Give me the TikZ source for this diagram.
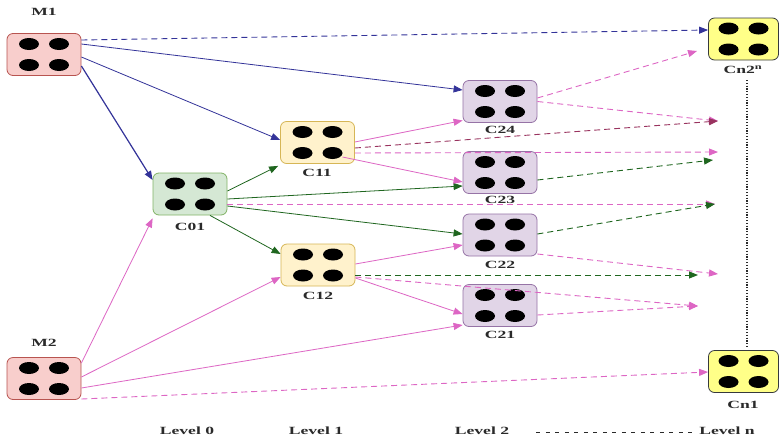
\documentclass[tikz,border=0pt]{standalone}
\usepackage{fontspec}
\setmainfont{Liberation Serif}[FakeStretch=1.6]
\usetikzlibrary{arrows.meta}
\definecolor{mfill}{HTML}{F8CECC}\definecolor{mdraw}{HTML}{B85450}
\definecolor{gfill}{HTML}{D5E8D4}\definecolor{gdraw}{HTML}{82B366}
\definecolor{yfill}{HTML}{FFF2CC}\definecolor{ydraw}{HTML}{D6B656}
\definecolor{pfill}{HTML}{E1D5E7}\definecolor{pdraw}{HTML}{9673A6}
\definecolor{nfill}{HTML}{FFFF88}\definecolor{ndraw}{HTML}{36393D}
\definecolor{cblue}{HTML}{333399}
\definecolor{cgreen}{HTML}{1F661F}
\definecolor{cpink}{HTML}{DD66C4}
\definecolor{cmaroon}{HTML}{99335F}
\definecolor{ctext}{HTML}{2A2A2A}
\newcommand\fourdots[1]{%
  \foreach \dx in {-15,15}{\foreach \dy in {-10.5,10.5}{%
    \fill ([shift={(\dx,\dy)}]#1.center) ellipse [x radius=10pt, y radius=6pt];}}}
\tikzset{
  box/.style={rounded corners=6pt, minimum width=74pt, minimum height=42pt, inner sep=0pt, line width=0.8pt},
  mbox/.style={box, fill=mfill, draw=mdraw},
  gbox/.style={box, fill=gfill, draw=gdraw},
  ybox/.style={box, fill=yfill, draw=ydraw},
  pbox/.style={box, fill=pfill, draw=pdraw},
  nbox/.style={box, minimum width=70pt, fill=nfill, draw=ndraw},
  lbl/.style={font=\bfseries\fontsize{11}{12}\selectfont, text=ctext, inner sep=0pt},
  arr/.style={-{Triangle[length=9pt,width=7pt]}, line width=0.8pt},
  dsh/.style={arr, line width=0.9pt, dash pattern=on 6pt off 4pt},
}
\begin{document}
\begin{tikzpicture}[x=1pt,y=-1pt]
\useasboundingbox[fill=white] (0,0) rectangle (779,440);
% boxes
\node[mbox] (M1) at (44,54.5) {};
\node[mbox] (M2) at (44,378.5) {};
\node[gbox] (C01) at (190,194) {};
\node[ybox] (C11) at (317.5,142.5) {};
\node[ybox] (C12) at (318,265) {};
\node[pbox] (C24) at (500,101.5) {};
\node[pbox] (C23) at (500,172.5) {};
\node[pbox] (C22) at (500,235) {};
\node[pbox] (C21) at (500,305.5) {};
\node[nbox] (Cn2) at (743.5,39) {};
\node[nbox] (Cn1) at (743.5,371.5) {};
\foreach \n in {M1,M2,C01,C11,C12,C24,C23,C22,C21,Cn2,Cn1}{\fourdots{\n}}
% labels
\node[lbl] (M1l) at (44,12) {M1};
\node[lbl] (M2l) at (44,343) {M2};
\node[lbl] (C01l) at (190,227) {C01};
\node[lbl] (C11l) at (317,173) {C11};
\node[lbl] (C12l) at (318,296) {C12};
\node[lbl] (C24l) at (500,130) {C24};
\node[lbl] (C23l) at (500,200) {C23};
\node[lbl] (C22l) at (500,265) {C22};
\node[lbl] (C21l) at (500,335) {C21};
\node[lbl] (Cn2l) at (743,70) {Cn2\textsuperscript{n}};
\node[lbl] (Cn1l) at (743,405) {Cn1};
\node[lbl] (L0) at (187,431) {Level 0};
\node[lbl] (L1) at (316,431) {Level 1};
\node[lbl] (L2) at (482,431) {Level 2};
\node[lbl] (Ln) at (727,431) {Level n};
% free ends
\coordinate (e9) at (715,204);
\coordinate (e16) at (718,121);
\coordinate (e17) at (718,152);
\coordinate (e18) at (697,51);
\coordinate (e20) at (713,160);
\coordinate (e22) at (718,274);
\coordinate (e23) at (698,275);
\coordinate (e24) at (698,306);
% level line and dotted vertical
\draw[ctext, line width=0.9pt, dash pattern=on 4pt off 5.5pt] ([shift={(27,1.5)}]L2.east) -- ([shift={(-6,1.5)}]Ln.west);
\draw[ctext, line width=1.1pt, dash pattern=on 1.2pt off 1.6pt] ([shift={(4,6)}]Cn2l.south) -- ([shift={(3.5,-4)}]Cn1.north);
% blue from M1
\draw[arr, cblue] ([shift={(0,-10.5)}]M1.east) -- ([shift={(0,-11.5)}]C24.west);
\draw[arr, cblue] ([shift={(0,2.5)}]M1.east) -- ([shift={(0,-2.5)}]C11.west);
\draw[arr, cblue, line width=1.2pt] ([shift={(0,11.5)}]M1.east) -- ([shift={(0,-14)}]C01.west);
\draw[dsh, cblue] ([shift={(0,-14.5)}]M1.east) -- ([shift={(0,-9)}]Cn2.west);
% green from C01
\draw[arr, cgreen] ([shift={(0,-3)}]C01.east) -- ([shift={(-2,2)}]C11.south west);
\draw[arr, cgreen] ([shift={(0,5)}]C01.east) -- ([shift={(0,13.5)}]C23.west);
\draw[arr, cgreen] ([shift={(0,12)}]C01.east) -- ([shift={(0,-1)}]C22.west);
\draw[arr, cgreen] ([shift={(20,0)}]C01.south) -- ([shift={(0,-11)}]C12.west);
\draw[dsh, cpink] ([shift={(0,10)}]C01.east) -- (e9);
% pink from M2
\draw[arr, cpink] ([shift={(0,-15.5)}]M2.east) -- ([shift={(0,3)}]C01.south west);
\draw[arr, cpink] ([shift={(0,-1.5)}]M2.east) -- ([shift={(0,12)}]C12.west);
\draw[arr, cpink] ([shift={(0,9.5)}]M2.east) -- ([shift={(0,19.5)}]C21.west);
\draw[dsh, cpink] ([shift={(0,20.5)}]M2.east) -- ([shift={(0,0.5)}]Cn1.west);
% from C11
\draw[arr, cpink] ([shift={(0,-0.5)}]C11.east) -- ([shift={(0,19)}]C24.west);
\draw[arr, cpink] ([shift={(25,14.5)}]C11.center) -- ([shift={(0,9.5)}]C23.west);
\draw[dsh, cpink] ([shift={(0,10.5)}]C11.east) -- (e17);
% from C24
\draw[dsh, cpink] ([shift={(0,-3.5)}]C24.east) -- (e18);
\draw[dsh, cpink] (C24.east) -- (e16);
\draw[dsh, cmaroon] ([shift={(0,5.5)}]C11.east) -- (e16);
% from C23, C22
\draw[dsh, cgreen] ([shift={(0,7.5)}]C23.east) -- (e20);
\draw[dsh, cgreen] ([shift={(0,-1)}]C22.east) -- (e9);
\draw[dsh, cpink] ([shift={(0,19)}]C22.east) -- (e22);
% from C12
\draw[arr, cpink] ([shift={(0,-1)}]C12.east) -- ([shift={(0,10)}]C22.west);
\draw[arr, cpink] ([shift={(0,13)}]C12.east) -- ([shift={(0,8.5)}]C21.west);
\draw[dsh, cgreen] ([shift={(0,10)}]C12.east) -- (e23);
\draw[dsh, cpink] ([shift={(0,12)}]C12.east) -- (e24);
\draw[dsh, cpink] ([shift={(0,9.5)}]C21.east) -- (e24);
\end{tikzpicture}
\end{document}
